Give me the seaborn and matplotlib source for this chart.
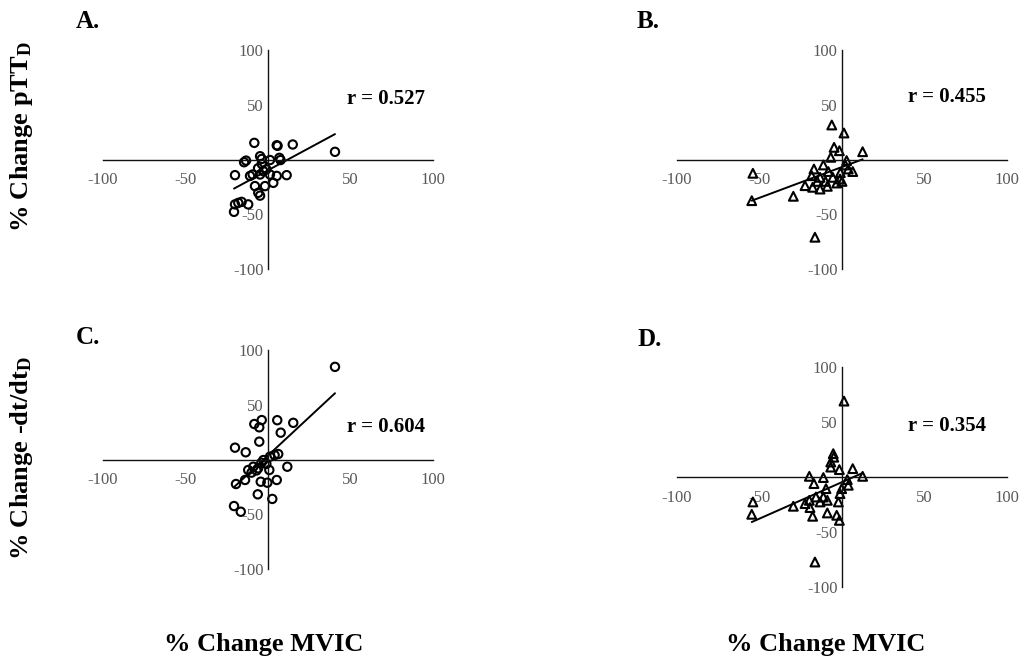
import matplotlib
matplotlib.use("Agg")
import matplotlib.pyplot as plt
import seaborn as sns
import numpy as np
import pandas as pd

# ---------------- data ----------------
a_x = [-8.3, 5.3, 5.8, 15.0, 40.6, -13.3, -14.5, -4.8, -3.8, 1.2, 6.9, 7.6,
       -20.0, -10.9, -9.3, -4.8, -2.8, 1.2, 5.3, 11.3, -7.9, -1.8, 3.2, -5.9,
       -4.8, -20.0, -18.0, -16.0, -12.0, -20.6, -3.8, -6.0, -1.0]
a_y = [15.2, 13.0, 12.5, 13.7, 7.0, -1.0, -2.5, 3.0, 0.5, -0.5, 1.5, -0.5,
       -14.3, -15.0, -13.7, -13.7, -10.7, -13.7, -15.0, -14.3, -24.3, -24.3, -21.3, -30.4,
       -33.0, -41.0, -39.6, -38.7, -41.0, -47.8, -4.0, -8.0, -9.0]

b_x = [-6.2, 1.2, -4.8, -1.6, -6.8, 12.5, 2.8, 3.8, 6.5, -11.3, -17.0, -8.3,
       -18.4, -13.3, -5.6, -1.2, -22.4, -17.8, -13.3, -8.9, -3.2, -54.0, -54.7,
       -29.5, -16.4, 0.0, -1.0, -10.0, 2.0, -15.0]
b_y = [31.5, 24.2, 11.1, 8.0, 2.0, 7.1, -1.0, -8.7, -11.0, -5.0, -8.7, -11.0,
       -14.8, -16.3, -16.3, -17.8, -23.9, -25.4, -27.0, -24.5, -21.5, -12.6, -37.6,
       -33.6, -71.0, -20.0, -12.0, -20.0, -5.0, -20.0]

c_x = [40.6, -3.8, -8.3, -5.3, 5.6, 15.3, 7.7, -5.3, -20.0, -13.5, 6.2, 1.2,
       -2.8, -8.9, -12.0, -6.0, 0.8, 11.7, -13.9, -19.4, -4.4, -0.4, 5.3, -6.2,
       2.6, -20.6, -16.5, -10.0, -4.0, -1.0, -7.0, 4.0]
c_y = [84.6, 36.0, 32.4, 29.4, 35.9, 33.5, 24.5, 16.3, 10.8, 6.6, 5.0, 2.6,
       -0.5, -6.6, -9.6, -8.0, -9.6, -6.6, -18.7, -22.4, -20.3, -21.2, -18.7, -31.8,
       -36.0, -42.5, -47.7, -12.0, -3.0, -4.0, -10.0, 4.0]

d_x = [1.2, -5.3, -5.0, -6.8, -6.8, -1.6, 6.5, 12.5, -19.8, -11.3, 3.2, 3.8,
       -17.0, -9.7, -15.8, -11.3, -1.2, -19.8, -13.3, -8.9, -22.4, -29.5, -19.4,
       -2.2, -54.0, -54.7, -17.8, -8.9, -3.2, -1.6, -16.4, -0.2]
d_y = [69.0, 21.2, 18.0, 13.6, 9.0, 6.7, 7.6, 0.6, 0.6, -0.5, -2.4, -7.5,
       -6.0, -10.6, -18.2, -18.2, -15.1, -21.2, -22.7, -21.2, -24.2, -26.6, -27.8,
       -22.7, -22.7, -33.9, -35.7, -32.7, -34.8, -39.4, -77.3, -10.6]

panel_letters = ["A.", "B.", "C.", "D."]
r_labels = ["r = 0.527", "r = 0.455", "r = 0.604", "r = 0.354"]
x_label = "% Change MVIC"
y_labels = [r"% Change pTT$_{\mathrm{D}}$", r"% Change -dt/dt$_{\mathrm{D}}$"]
ticks = [-100, -50, 50, 100]

# ---------------- style ----------------
sns.set_theme(style="white")
plt.rcParams["font.family"] = ["Liberation Serif", "DejaVu Serif"]
plt.rcParams["text.color"] = "black"
plt.rcParams["mathtext.fontset"] = "custom"
plt.rcParams["mathtext.rm"] = "Liberation Serif:bold"
plt.rcParams["mathtext.it"] = "Liberation Serif:bold"
plt.rcParams["mathtext.bf"] = "Liberation Serif:bold"

fig = plt.figure(figsize=(10.23, 6.62), dpi=100)
W, H = 1023, 662

def px_axes(x0, y0, x1, y1):
    return fig.add_axes([x0 / W, 1 - y1 / H, (x1 - x0) / W, (y1 - y0) / H])

axes_px = [(103, 50, 433, 269), (677, 50, 1007, 269),
           (103, 350, 433, 569), (677, 367, 1007, 587)]
datasets = [(a_x, a_y, "o"), (b_x, b_y, "^"), (c_x, c_y, "o"), (d_x, d_y, "^")]
r_pos = [(48, 55), (40, 57), (48, 30), (40, 46)]

for i, (box, (xs, ys, mk)) in enumerate(zip(axes_px, datasets)):
    ax = px_axes(*box)
    df = pd.DataFrame({"x": xs, "y": ys})
    sns.regplot(data=df, x="x", y="y", ax=ax, ci=None, marker=mk,
                scatter_kws=dict(s=36 if mk == "o" else 40, facecolors="none",
                                 edgecolors="black", linewidths=1.5, alpha=1),
                line_kws=dict(color="black", lw=1.4))
    ax.set_xlim(-100, 100)
    ax.set_ylim(-100, 100)
    for s in ["top", "right"]:
        ax.spines[s].set_visible(False)
    for s in ["left", "bottom"]:
        ax.spines[s].set_position(("data", 0))
        ax.spines[s].set_color("#111111")
        ax.spines[s].set_linewidth(1.0)
    ax.set_xticks(ticks)
    ax.set_yticks(ticks)
    ax.set_xticklabels([str(t) for t in ticks])
    ax.set_yticklabels([str(t) for t in ticks])
    ax.tick_params(axis="x", length=0, pad=9, labelsize=12, colors="#595959")
    ax.tick_params(axis="y", length=0, pad=3, labelsize=12, colors="#595959")
    ax.set_xlabel("")
    ax.set_ylabel("")
    ax.patch.set_alpha(0)
    ax.text(r_pos[i][0], r_pos[i][1], r_labels[i], ha="left", va="center",
            fontsize=15, fontweight="bold", color="black")

# panel letters
fig.text(76 / W, 1 - 22 / H, panel_letters[0], fontsize=18, fontweight="bold", va="center", ha="left")
fig.text(637 / W, 1 - 22 / H, panel_letters[1], fontsize=18, fontweight="bold", va="center", ha="left")
fig.text(76 / W, 1 - 338 / H, panel_letters[2], fontsize=18, fontweight="bold", va="center", ha="left")
fig.text(637 / W, 1 - 339 / H, panel_letters[3], fontsize=18, fontweight="bold", va="center", ha="left")

# axis titles
fig.text(22 / W, 1 - 137 / H, y_labels[0], rotation=90, fontsize=19, fontweight="bold",
         ha="center", va="center", color="black")
fig.text(22 / W, 1 - 458 / H, y_labels[1], rotation=90, fontsize=19, fontweight="bold",
         ha="center", va="center", color="black")
fig.text(264 / W, 1 - 645 / H, x_label, fontsize=19, fontweight="bold", ha="center", va="center", color="black")
fig.text(826 / W, 1 - 645 / H, x_label, fontsize=19, fontweight="bold", ha="center", va="center", color="black")

fig.savefig("out.png", dpi=100, facecolor="white")
